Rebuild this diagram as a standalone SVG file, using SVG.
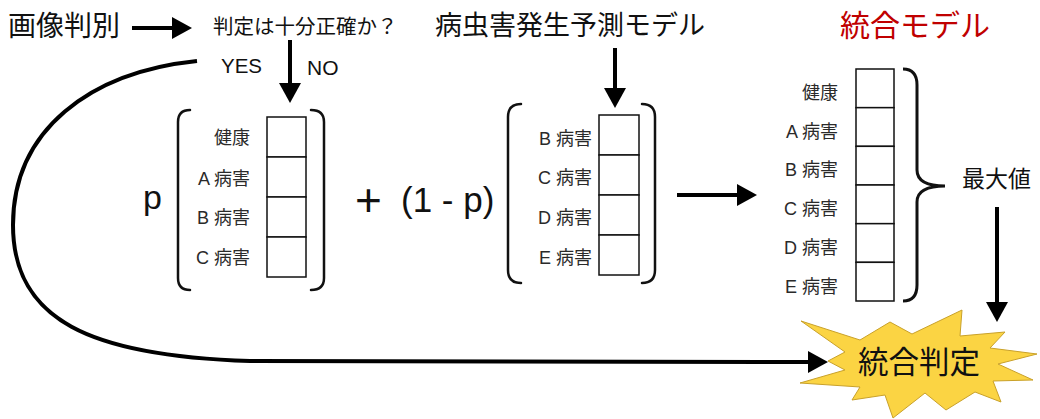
<svg xmlns="http://www.w3.org/2000/svg" width="1040" height="419" viewBox="0 0 1040 419">
<style>
.t{font-family:"Liberation Sans","Noto Sans CJK JP",sans-serif;fill:#111}
.lbl{font-size:18px;text-anchor:end;fill:#2a2a2a}
.cell{fill:#fff;stroke:#111;stroke-width:1.5}
.br{fill:none;stroke:#111;stroke-width:2.5;stroke-linecap:round}
.ar{fill:none;stroke:#000;stroke-width:4;marker-end:url(#ah)}
</style>
<defs>
<marker id="ah" markerUnits="userSpaceOnUse" markerWidth="20" markerHeight="22" refX="0" refY="11" orient="auto" overflow="visible">
<path d="M0,0 L20,11 L0,22 z" fill="#000"/>
</marker>
</defs>
<rect width="1040" height="419" fill="#fff"/>

<g id="title-image">
<text class="t" x="8" y="36" font-size="28">画像判別</text>
</g>
<g id="question">
<text class="t" x="213" y="34" font-size="20.5">判定は十分正確か？</text>
<text class="t" x="221" y="73" font-size="20.5">YES</text>
<text class="t" x="307" y="75" font-size="21">NO</text>
</g>
<g id="title-pest">
<text class="t" x="435" y="35" font-size="27">病虫害発生予測モデル</text>
</g>
<g id="title-integrated">
<text class="t" x="840" y="36" font-size="30" style="fill:#c00000">統合モデル</text>
</g>

<g id="vector-image">
<text class="t" x="143" y="209" font-size="34">p</text>
<path class="br" d="M190,110 Q178,110 178,122 L178,278 Q178,290 190,290"/>
<path class="br" d="M311,110 Q324,110 324,122 L324,278 Q324,290 311,290"/>
<rect class="cell" x="267" y="117" width="39" height="40"/>
<rect class="cell" x="267" y="157" width="39" height="40"/>
<rect class="cell" x="267" y="197" width="39" height="40"/>
<rect class="cell" x="267" y="237" width="39" height="40"/>
<text class="t lbl" x="250" y="144">健康</text>
<text class="t lbl" x="250" y="185">A 病害</text>
<text class="t lbl" x="250" y="224">B 病害</text>
<text class="t lbl" x="250" y="264">C 病害</text>
</g>

<g id="vector-pest">
<text class="t" x="355" y="216" font-size="46">+</text>
<text class="t" x="401" y="212" font-size="35">(1 - p)</text>
<path class="br" d="M521,104 Q508,104 508,117 L508,270 Q508,283 521,283"/>
<path class="br" d="M642,104 Q655,104 655,117 L655,270 Q655,283 642,283"/>
<rect class="cell" x="599" y="115" width="40" height="40"/>
<rect class="cell" x="599" y="155" width="40" height="40"/>
<rect class="cell" x="599" y="195" width="40" height="40"/>
<rect class="cell" x="599" y="235" width="40" height="40"/>
<text class="t lbl" x="592" y="145">B 病害</text>
<text class="t lbl" x="592" y="184">C 病害</text>
<text class="t lbl" x="592" y="224">D 病害</text>
<text class="t lbl" x="592" y="264">E 病害</text>
</g>

<g id="vector-integrated">
<rect class="cell" x="856" y="69" width="38" height="38.67"/>
<rect class="cell" x="856" y="107.67" width="38" height="38.67"/>
<rect class="cell" x="856" y="146.33" width="38" height="38.67"/>
<rect class="cell" x="856" y="185" width="38" height="38.67"/>
<rect class="cell" x="856" y="223.67" width="38" height="38.67"/>
<rect class="cell" x="856" y="262.33" width="38" height="38.67"/>
<text class="t lbl" x="838" y="99">健康</text>
<text class="t lbl" x="838" y="138">A 病害</text>
<text class="t lbl" x="838" y="176">B 病害</text>
<text class="t lbl" x="838" y="215">C 病害</text>
<text class="t lbl" x="838" y="254">D 病害</text>
<text class="t lbl" x="838" y="293">E 病害</text>
<path d="M903,69 Q917,69 917,85 L917,170 Q917,186 945,186 Q917,186 917,202 L917,285 Q917,301 903,301" fill="none" stroke="#111" stroke-width="3"/>
<text class="t" x="962" y="187" font-size="23">最大値</text>
</g>

<g id="final">
<polygon points="801,321 860,340 890,322 912,334 962,310 960,336 1005,332 990,348 1037,354 998,364 1033,380 993,381 1001,402 975,392 946,410 925,393 893,418 885,395 852,400 860,387 800,383 845,370 828,361 845,352" fill="#fbd443" stroke="#c9a12a" stroke-width="1"/>
<text class="t" x="919" y="373" font-size="30.5" text-anchor="middle">統合判定</text>
</g>

<g id="connectors">
<line class="ar" x1="132" y1="28" x2="172" y2="28"/>
<line class="ar" x1="290" y1="40" x2="290" y2="83"/>
<line class="ar" x1="615" y1="48" x2="615" y2="88"/>
<line class="ar" x1="677" y1="195" x2="737" y2="195"/>
<line class="ar" x1="997" y1="207" x2="997" y2="302"/>
<path class="ar" d="M197,61 C90,72 13,130 13,225 C13,320 90,356 250,361 L808,362"/>
</g>
</svg>
